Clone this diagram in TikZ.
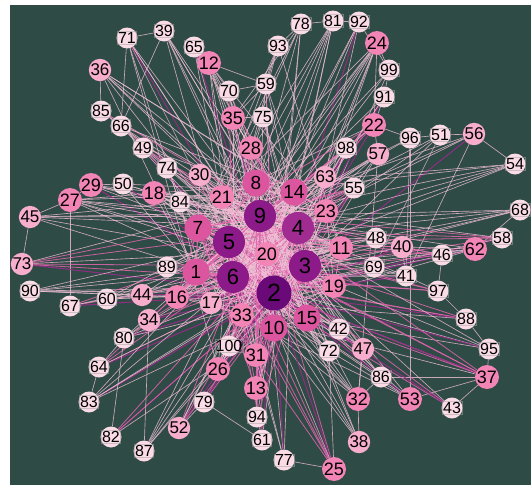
\documentclass[tikz,border=0pt]{standalone}
\usepackage{fontspec}
\setmainfont{Liberation Sans}
\pgfdeclarelayer{back}
\pgfdeclarelayer{edges}
\pgfsetlayers{back,edges,main}
\definecolor{bgc}{HTML}{2E4B46}
\definecolor{cA}{HTML}{6A0A78}
\definecolor{cB}{HTML}{8C1A88}
\definecolor{cBb}{HTML}{A02C92}
\definecolor{cC}{HTML}{DC559F}
\definecolor{cD}{HTML}{F284B6}
\definecolor{cE}{HTML}{F6AECC}
\definecolor{cF}{HTML}{FBDCE6}
\definecolor{edL}{HTML}{F2C0D6}
\definecolor{edM}{HTML}{E466AE}
\definecolor{edD}{HTML}{9A2A8A}
\begin{document}
\begin{tikzpicture}[x=1pt,y=-1pt,
  nbase/.style={circle,inner sep=0pt,text=black},
  nA/.style={nbase,fill=cA,minimum size=35pt,font=\fontsize{25}{25}\selectfont},
  nB/.style={nbase,fill=cB,minimum size=32pt,font=\fontsize{22}{22}\selectfont},
  nC/.style={nbase,fill=cC,minimum size=27pt,font=\fontsize{19}{19}\selectfont},
  nD/.style={nbase,fill=cD,minimum size=24pt,font=\fontsize{18}{18}\selectfont},
  nE/.style={nbase,fill=cE,minimum size=22pt,font=\fontsize{17}{17}\selectfont},
  nF/.style={nbase,fill=cF,minimum size=21pt},
  lbx/.style={rectangle,draw=gray!70,draw opacity=0.55,line width=0.4pt,inner sep=0.8pt,text=black,font=\fontsize{16}{16}\selectfont},
  eL/.style={draw=edL,line width=0.65pt,opacity=0.8},
  eM/.style={draw=edM,line width=0.8pt,opacity=0.85},
  eD/.style={draw=edD,line width=1pt,opacity=0.9}]
\useasboundingbox (0,0) rectangle (531,485);
\begin{pgfonlayer}{back}
\fill[white] (0,0) rectangle (531,485);
\fill[bgc] (10,5) rectangle (531,485);
\end{pgfonlayer}
% nodes
\node[nA] (n2) at (274,293) {2};
\foreach \n/\x/\y in {3/305/266,5/229/242,6/233/277,9/260/216}
  \node[nB] (n\n) at (\x,\y) {\n};
\node[nB,fill=cBb] (n4) at (298,228) {4};
\foreach \n/\x/\y in {1/196/272,7/198/228,8/256/183,10/274/328,14/294/192,15/307/318}
  \node[nC] (n\n) at (\x,\y) {\n};
\foreach \n/\x/\y in {11/341/248,12/209/63,13/256/388,16/177/297,18/154/193,19/334/286,20/267/254,21/222/197,22/374/125,23/326/211,24/377/43,25/334/469,26/218/369,27/70/200,28/251/148,29/91/185,31/256/355,32/358/399,33/242/315,35/233/118,37/487/377,53/410/399,62/475/249}
  \node[nD] (n\n) at (\x,\y) {\n};
\foreach \n/\x/\y in {17/211/303,30/200/175,34/149/320,36/100/70,38/359/442,40/402/247,44/142/295,45/30/217,47/363/349,52/179/428,56/474/134,57/378/154,63/325/177,73/22/264}
  \node[nE] (n\n) at (\x,\y) {\n};
\foreach \n/\x/\y in {39/164/31,41/406/276,42/339/329,43/452/408,46/442/255,48/376/238,49/143/148,50/123/184,51/440/135,54/515/164,55/354/188,58/502/238,59/266/84,60/107/299,61/262/440,64/99/367,65/194/47,66/121/126,67/70/306,68/520/210,69/374/267,70/229/91,71/127/38,72/329/351,74/167/168,75/263/117,76/346/148,77/284/460,78/301/24,79/204/402,80/124/338,81/333/21,82/111/437,83/89/402,84/180/202,85/101/111,86/381/377,87/144/451,88/466/319,89/167/267,90/30/291,91/384/97,92/359/22,93/278/46,94/257/417,95/489/349,96/410/138,97/438/291,98/346/148,99/389/70,100/229/346}
  {\node[nF] (n\n) at (\x,\y) {}; \node[lbx] (t\n) at (n\n) {\n};}
% edges
\begin{pgfonlayer}{edges}
\foreach \a/\b in {
71/39,71/66,71/5,71/9,71/2,71/17,71/20,71/26,71/15,
39/66,39/6,39/4,39/8,39/3,39/20,39/15,
65/12,65/5,65/19,65/2,65/10,
12/70,12/59,12/9,12/3,12/2,12/15,12/23,12/6,12/31,12/19,
78/93,78/35,78/6,78/2,78/10,78/7,78/16,
81/78,81/2,81/5,81/21,81/9,81/1,81/13,81/33,
92/81,92/99,92/3,92/6,92/2,92/26,92/17,
93/59,93/7,93/1,93/11,93/17,
24/99,24/22,24/5,24/6,24/2,24/20,24/9,24/16,24/31,24/13,24/21,
99/91,99/17,99/10,99/16,
91/22,91/4,91/2,91/33,91/16,
59/70,59/35,59/75,59/4,59/19,59/2,59/10,
70/35,70/6,70/3,70/28,70/10,
36/85,36/4,36/3,36/9,36/2,36/23,36/17,36/14,
85/66,85/3,85/11,85/4,85/19,
66/49,66/2,66/9,66/20,66/14,
35/75,35/28,35/2,35/10,35/6,35/19,35/9,35/4,
75/28,75/5,75/15,75/9,75/4,75/3,
22/96,22/57,22/5,22/6,22/1,22/2,22/7,22/21,22/16,
96/51,96/57,96/41,96/53,96/5,
51/56,51/5,51/6,51/69,51/3,
56/54,56/41,56/2,56/5,56/1,56/7,
49/74,49/9,49/2,49/3,49/15,49/23,
28/6,28/4,28/10,28/31,28/9,28/5,28/3,
76/2,76/5,76/9,76/13,76/33,
98/3,98/6,98/26,98/16,
57/1,57/5,57/2,57/10,57/32,57/16,57/17,
54/5,54/7,54/1,54/21,54/27,54/16,
74/84,74/3,74/9,74/20,74/31,
30/9,30/5,30/4,30/2,30/3,30/14,30/1,30/20,
63/6,63/5,63/7,63/1,63/17,63/9,63/3,
55/2,55/6,55/1,55/7,55/5,55/9,55/3,
29/27,29/50,29/4,29/9,29/3,29/11,29/2,29/23,
50/1,50/14,50/2,50/11,
18/50,18/4,18/3,18/9,18/19,18/2,18/23,18/20,18/1,18/7,
84/20,84/2,84/4,84/1,84/9,
21/4,21/3,21/2,21/6,21/11,21/15,21/8,21/19,21/10,
23/5,23/6,23/2,23/7,23/1,23/16,23/17,23/33,23/11,
27/45,27/67,27/4,27/3,27/9,27/2,27/11,27/19,27/14,
45/73,45/4,45/3,45/9,45/2,45/14,45/23,
68/62,68/6,68/9,68/5,68/1,68/7,68/16,
7/9,7/2,7/3,7/4,7/20,7/21,7/15,7/11,
73/4,73/3,73/2,73/9,73/6,73/11,73/14,
89/5,89/2,89/3,89/9,89/4,
1/5,1/2,1/3,1/4,1/9,1/7,1/16,1/17,1/11,1/14,
58/9,58/5,58/6,58/2,58/7,58/18,58/17,
62/46,62/6,62/5,62/1,62/2,62/9,62/17,62/33,
46/40,46/5,46/9,46/6,46/97,46/7,
40/48,40/41,40/6,40/5,40/2,40/16,
48/69,48/5,48/9,48/6,48/1,
69/41,69/6,69/5,69/2,
41/6,41/5,41/9,41/2,41/97,41/1,
11/5,11/6,11/2,11/9,11/1,11/19,11/16,
19/6,19/5,19/9,19/7,19/1,19/15,19/8,
97/88,97/6,97/5,97/1,97/7,
90/16,90/3,90/2,90/4,90/19,90/44,90/11,
67/60,67/3,67/2,67/4,67/11,
60/44,60/3,60/2,60/4,60/9,60/19,
44/16,44/3,44/2,44/4,44/9,
16/4,16/3,16/2,16/9,16/7,16/8,16/14,16/17,
17/9,17/3,17/4,17/2,17/23,17/14,17/33,
33/9,33/4,33/3,33/5,33/8,33/14,33/11,33/10,
34/80,34/3,34/2,34/4,34/9,
15/5,15/6,15/9,15/7,15/21,15/1,15/10,
10/5,10/9,10/7,10/8,10/11,10/23,
42/5,42/6,42/9,42/7,42/3,42/2,42/4,
88/95,88/6,88/5,88/1,88/2,88/16,
80/64,80/3,80/2,80/4,80/9,80/19,
100/9,100/4,100/3,100/5,100/20,
31/9,31/4,31/5,31/7,31/8,31/20,31/3,31/2,
72/5,72/6,72/9,72/7,72/25,72/3,72/2,
47/6,47/5,47/9,47/7,47/32,47/3,47/2,
95/37,95/6,95/5,95/9,95/2,95/17,
64/83,64/3,64/2,64/4,64/9,64/11,
26/3,26/4,26/9,26/2,26/14,26/5,26/20,
86/37,86/32,86/5,86/6,86/9,86/21,
37/43,37/53,37/6,37/5,37/9,37/2,37/7,37/1,37/16,
53/6,53/5,53/9,53/1,53/2,53/17,
43/5,43/6,43/2,43/21,
83/2,83/3,83/4,83/9,83/19,83/11,
79/61,79/52,79/3,79/4,79/2,
13/9,13/5,13/4,13/3,13/7,13/2,13/20,
32/38,32/5,32/6,32/9,32/7,32/1,32/30,
94/61,94/13,94/3,94/9,94/14,94/8,
82/80,82/2,82/3,82/4,82/19,
52/2,52/3,52/4,52/9,52/20,52/14,
61/9,61/5,61/2,61/14,
38/5,38/6,38/9,38/8,38/21,
87/34,87/2,87/3,87/4,87/9,87/14,
77/25,77/5,77/9,77/2,77/6,77/14,
25/5,25/6,25/9,25/7,25/1,25/2,25/21,
2/3,2/4,2/5,2/6,2/9,3/4,3/5,3/6,3/9,4/5,4/6,4/9,5/6,5/9,6/9,
8/9,8/4,14/3,20/6,20/4,14/8,1/6,7/5,10/15,10/2,15/3,19/3,11/4,
20/1,20/7,20/8,20/14,20/23,20/11,20/19,20/15,20/10,20/33,20/17,
8/17,8/15,14/23,23/19,14/1}{
  \pgfmathtruncatemacro\k{mod(\a,3)}
  \ifnum\b=2
    \ifnum\k=0 \draw[eL] (n\a) -- (n\b); \else \draw[eD] (n\a) -- (n\b); \fi
  \else
    \ifnum\b<10
      \ifnum\k=1 \draw[eM] (n\a) -- (n\b); \else \draw[eL] (n\a) -- (n\b); \fi
    \else
      \draw[eL] (n\a) -- (n\b);
    \fi
  \fi
}
\end{pgfonlayer}
\end{tikzpicture}
\end{document}
